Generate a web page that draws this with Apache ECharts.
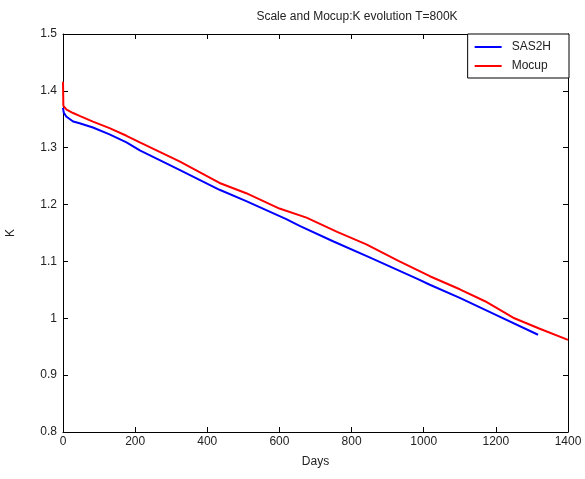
<!DOCTYPE html>
<html>
<head>
<meta charset="utf-8">
<script src="https://cdn.jsdelivr.net/npm/echarts@6/dist/echarts.min.js"></script>
<style>
html,body{margin:0;padding:0;background:#fff;}
#c{width:585px;height:479px;}
</style>
</head>
<body>
<div id="c"></div>
<script>
var xTicks = [0, 200, 400, 600, 800, 1000, 1200, 1400];
var yTicks = [0.8, 0.9, 1.0, 1.1, 1.2, 1.3, 1.4, 1.5];

var sasDays = [0, 2, 9, 28, 46, 83, 129, 176, 213, 323, 434, 508, 619, 656, 750, 850, 984, 1017, 1100, 1200, 1317];
var sasK    = [1.370, 1.362, 1.355, 1.346, 1.343, 1.3355, 1.3235, 1.3095, 1.2955, 1.261, 1.226, 1.206, 1.1745, 1.1625, 1.135, 1.107, 1.069, 1.059, 1.036, 1.006, 0.971];

var mocDays = [0, 1, 10, 28, 46, 83, 129, 176, 213, 323, 434, 508, 600, 675, 760, 841, 930, 1017, 1100, 1170, 1248, 1320, 1400];
var mocK    = [1.416, 1.3736, 1.367, 1.361, 1.356, 1.346, 1.3344, 1.321, 1.3095, 1.276, 1.238, 1.220, 1.193, 1.177, 1.152, 1.130, 1.101, 1.074, 1.051, 1.030, 1.001, 0.982, 0.962];

function pairs(xs, ys) { return xs.map(function (x, i) { return [x, ys[i]]; }); }

var chart = echarts.init(document.getElementById('c'), null, {renderer: 'canvas'});
var font = 'Liberation Sans, Arial, sans-serif';
var axisCommon = {
  axisLine: {show: true, onZero: false, lineStyle: {color: '#000', width: 1}},
  axisTick: {show: true, inside: true, length: 5, lineStyle: {color: '#000'}},
  splitLine: {show: false}
};
chart.setOption({
  animation: false,
  backgroundColor: '#fff',
  title: {
    text: 'Scale and Mocup:K evolution T=800K',
    left: 352, top: 6, textAlign: 'center',
    textStyle: {fontFamily: font, fontSize: 12, fontWeight: 'normal', color: '#222'}
  },
  grid: {left: 63, right: 17, top: 34, bottom: 47, containLabel: false, outerBoundsMode: 'none'},
  legend: {
    right: 16, top: 34,
    orient: 'vertical',
    backgroundColor: '#fff',
    borderColor: '#000', borderWidth: 1, borderRadius: 0,
    padding: [7, 18, 6, 7],
    itemGap: 7,
    itemWidth: 27, itemHeight: 2,
    icon: 'rect',
    textStyle: {fontFamily: font, fontSize: 12, color: '#222', padding: [0, 0, 0, 5]},
    data: ['SAS2H', 'Mocup']
  },
  xAxis: [
    Object.assign({
      type: 'value', min: 0, max: 1400, interval: 200, position: 'bottom',
      name: 'Days', nameLocation: 'middle', nameGap: 24,
      nameTextStyle: {fontFamily: font, fontSize: 12, color: '#222'},
      axisLabel: {fontFamily: font, fontSize: 12, color: '#222', margin: 4,
        formatter: function (v) { return String(v); }}
    }, axisCommon),
    Object.assign({
      type: 'value', min: 0, max: 1400, interval: 200, position: 'top',
      axisLabel: {show: false}
    }, axisCommon)
  ],
  yAxis: [
    Object.assign({
      type: 'value', min: 0.8, max: 1.5, interval: 0.1, position: 'left',
      name: 'K', nameLocation: 'middle', nameGap: 46,
      nameTextStyle: {fontFamily: font, fontSize: 12, color: '#222'},
      axisLabel: {fontFamily: font, fontSize: 12, color: '#222', margin: 6,
        formatter: function (v) { return String(Math.round(v * 10) / 10); }}
    }, axisCommon),
    Object.assign({
      type: 'value', min: 0.8, max: 1.5, interval: 0.1, position: 'right',
      axisLabel: {show: false}
    }, axisCommon)
  ],
  series: [
    {
      name: 'SAS2H', type: 'line', data: pairs(sasDays, sasK),
      showSymbol: false, symbol: 'none', color: '#0000ff',
      lineStyle: {color: '#0000ff', width: 2}
    },
    {
      name: 'Mocup', type: 'line', data: pairs(mocDays, mocK),
      showSymbol: false, symbol: 'none', color: '#ff0000',
      lineStyle: {color: '#ff0000', width: 2}
    }
  ]
});
</script>
</body>
</html>
